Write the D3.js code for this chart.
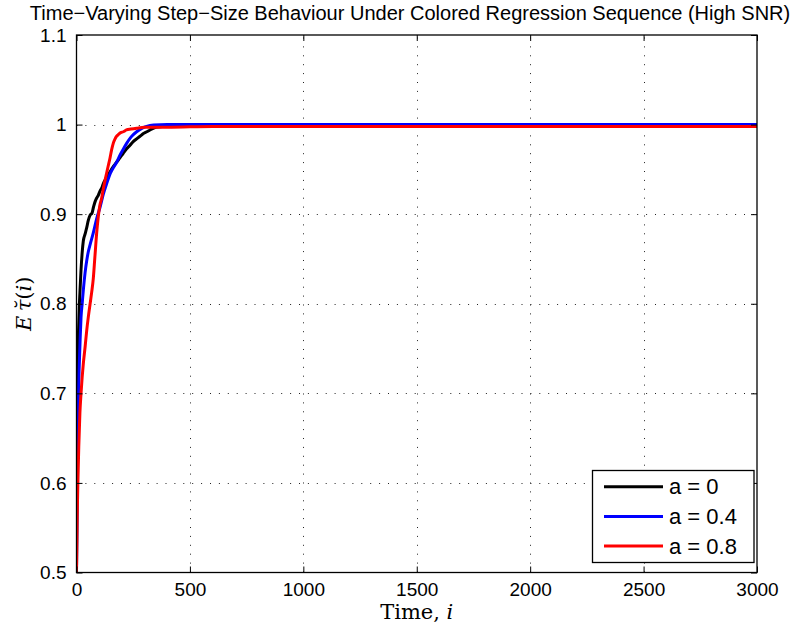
<!DOCTYPE html>
<html>
<head>
<meta charset="utf-8">
<script src="https://cdn.jsdelivr.net/npm/d3@7"></script>
<style>
  html, body { margin: 0; padding: 0; background: #fff; }
  svg { display: block; }
  text { font-family: "Liberation Sans", Arial, Helvetica, sans-serif; fill: #000; }
</style>
</head>
<body>
<svg id="chart" width="793" height="630"></svg>
<script>
// Mean time-varying step size E[tau(i)] for three correlation levels a
const xTicks = [0, 500, 1000, 1500, 2000, 2500, 3000];
const xTickLabels = ["0", "500", "1000", "1500", "2000", "2500", "3000"];
const yTicks = [0.5, 0.6, 0.7, 0.8, 0.9, 1.0, 1.1];
const yTickLabels = ["0.5", "0.6", "0.7", "0.8", "0.9", "1", "1.1"];
const seriesNames = ["a = 0", "a = 0.4", "a = 0.8"];
const seriesColors = ["#000000", "#0000ff", "#ff0000"];

const timeA0 = [0, 2, 4, 6, 9, 12, 15, 20, 25, 30, 38, 45, 52, 60, 68, 75, 82, 89, 96, 104, 111, 118, 133, 147, 162, 177, 192, 206, 221, 236, 250, 265, 280, 295, 310, 324, 350, 382, 420, 500, 700, 1000, 1400, 1800, 2200, 2600, 3000];
const tauA0  = [0.5, 0.6, 0.68, 0.73, 0.77, 0.795, 0.812, 0.838, 0.857, 0.87, 0.878, 0.885, 0.893, 0.899, 0.901, 0.908, 0.914, 0.918, 0.921, 0.926, 0.929, 0.934, 0.941, 0.947, 0.953, 0.958, 0.963, 0.968, 0.973, 0.977, 0.981, 0.984, 0.987, 0.99, 0.992, 0.994, 0.997, 0.998, 0.9995, 1.0, 1.0, 1.0, 1.0, 1.0, 1.0, 1.0, 1.0];

const timeA4 = [0, 2, 5, 8, 12, 16, 20, 25, 30, 38, 45, 52, 60, 74, 89, 104, 118, 133, 150, 165, 177, 190, 205, 221, 240, 265, 290, 309, 340, 400, 500, 700, 1000, 1400, 1800, 2200, 2600, 3000];
const tauA4  = [0.5, 0.56, 0.64, 0.69, 0.73, 0.76, 0.785, 0.8, 0.815, 0.835, 0.848, 0.858, 0.866, 0.879, 0.895, 0.908, 0.922, 0.934, 0.946, 0.953, 0.958, 0.965, 0.972, 0.979, 0.986, 0.992, 0.996, 0.998, 0.9995, 1.0, 1.0, 1.0, 1.0, 1.0, 1.0, 1.0, 1.0, 1.0];

const timeA8 = [0, 3, 6, 10, 15, 20, 25, 30, 38, 45, 52, 60, 67, 74, 81, 89, 96, 103, 111, 118, 126, 133, 140, 148, 155, 162, 170, 177, 185, 195, 206, 220, 240, 265, 300, 400, 600, 900, 1200, 1600, 2000, 2400, 2800, 3000];
const tauA8  = [0.5, 0.56, 0.6, 0.64, 0.678, 0.7, 0.718, 0.733, 0.752, 0.77, 0.785, 0.8, 0.813, 0.828, 0.852, 0.879, 0.897, 0.91, 0.918, 0.928, 0.938, 0.946, 0.954, 0.963, 0.972, 0.979, 0.984, 0.987, 0.989, 0.991, 0.992, 0.994, 0.995, 0.996, 0.997, 0.997, 0.998, 0.998, 0.998, 0.998, 0.998, 0.998, 0.998, 0.998];

const seriesTimes = [timeA0, timeA4, timeA8];
const seriesValues = [tauA0, tauA4, tauA8];

const margin = { left: 76.5, top: 35, right: 793 - 757, bottom: 630 - 572.5 };
const W = 793, H = 630;
const x = d3.scaleLinear().domain([0, 3000]).range([margin.left, W - margin.right]);
const y = d3.scaleLinear().domain([0.5, 1.1]).range([H - margin.bottom, margin.top]);

const svg = d3.select("#chart");
const x0 = x.range()[0], x1 = x.range()[1], y0 = y.range()[0], y1 = y.range()[1];

// dotted grid
const grid = svg.append("g").attr("stroke", "#222").attr("stroke-width", 1).attr("stroke-dasharray", "1,7.9");
grid.selectAll("line.gx").data(xTicks.slice(1, -1)).join("line")
  .attr("x1", d => Math.round(x(d)) + 0.5).attr("x2", d => Math.round(x(d)) + 0.5)
  .attr("y1", y0).attr("y2", y1);
grid.selectAll("line.gy").data(yTicks.slice(1, -1)).join("line")
  .attr("y1", d => Math.round(y(d)) + 0.5).attr("y2", d => Math.round(y(d)) + 0.5)
  .attr("x1", x0).attr("x2", x1);

// clipped curves
svg.append("clipPath").attr("id", "plotclip").append("rect")
  .attr("x", x0).attr("y", y1).attr("width", x1 - x0).attr("height", y0 - y1);
const line = d3.line().x(d => x(d[0])).y(d => y(d[1])).curve(d3.curveMonotoneX);
const curves = svg.append("g").attr("clip-path", "url(#plotclip)");
seriesValues.forEach((vals, k) => {
  const pts = vals.map((v, j) => [seriesTimes[k][j], v]);
  curves.append("path").datum(pts)
    .attr("d", line).attr("fill", "none")
    .attr("stroke", seriesColors[k]).attr("stroke-width", 3)
    .attr("stroke-linejoin", "round");
});

// axes with inward ticks on all four sides
const tickLen = 6;
const axB = svg.append("g").attr("transform", `translate(0,${y0})`)
  .call(d3.axisBottom(x).tickValues(xTicks).tickSizeInner(-tickLen).tickSizeOuter(0).tickPadding(10)
    .tickFormat((d, i) => xTickLabels[i]));
const axT = svg.append("g").attr("transform", `translate(0,${y1})`)
  .call(d3.axisTop(x).tickValues(xTicks).tickSizeInner(-tickLen).tickSizeOuter(0).tickFormat(""));
const axL = svg.append("g").attr("transform", `translate(${x0},0)`)
  .call(d3.axisLeft(y).tickValues(yTicks).tickSizeInner(-tickLen).tickSizeOuter(0).tickPadding(10)
    .tickFormat((d, i) => yTickLabels[i]));
const axR = svg.append("g").attr("transform", `translate(${x1},0)`)
  .call(d3.axisRight(y).tickValues(yTicks).tickSizeInner(-tickLen).tickSizeOuter(0).tickFormat(""));
[axB, axT, axL, axR].forEach(a => {
  a.select(".domain").remove();
  a.selectAll("line").attr("stroke", "#000");
  a.selectAll("text").attr("font-size", 19).attr("font-family", "Liberation Sans, Arial, sans-serif").attr("fill", "#000");
});
svg.append("rect").attr("x", x0).attr("y", y1).attr("width", x1 - x0).attr("height", y0 - y1)
  .attr("fill", "none").attr("stroke", "#000").attr("stroke-width", 1.3);

// title
svg.append("text").attr("x", 410).attr("y", 20).attr("text-anchor", "middle")
  .attr("font-size", 20)
  .text("Time\u2212Varying Step\u2212Size Behaviour Under Colored Regression Sequence (High SNR)");

// x label
const xl = svg.append("text").attr("x", (x0 + x1) / 2).attr("y", 619).attr("text-anchor", "middle")
  .attr("font-size", 21).style("font-family", "DejaVu Serif, serif");
xl.append("tspan").text("Time, ");
xl.append("tspan").attr("font-style", "italic").text("i");

// y label
const yl = svg.append("text").attr("transform", `translate(31,${(y0 + y1) / 2}) rotate(-90)`)
  .attr("text-anchor", "middle").attr("font-size", 21).style("font-family", "DejaVu Serif, serif");
yl.append("tspan").attr("font-style", "italic").text("E\u2009\u03C4\u0306");
yl.append("tspan").text("(");
yl.append("tspan").attr("font-style", "italic").text("i");
yl.append("tspan").text(")");

// legend
const lg = svg.append("g");
lg.append("rect").attr("x", 592.5).attr("y", 470.5).attr("width", 161.5).attr("height", 92)
  .attr("fill", "#fff").attr("stroke", "#000").attr("stroke-width", 1.3);
seriesNames.forEach((name, k) => {
  const ry = 486.7 + k * 29.7;
  lg.append("line").attr("x1", 604).attr("x2", 663).attr("y1", ry).attr("y2", ry)
    .attr("stroke", seriesColors[k]).attr("stroke-width", 3);
  lg.append("text").attr("x", 669).attr("y", ry + 7.5).attr("font-size", 22).text(name);
});
</script>
</body>
</html>
